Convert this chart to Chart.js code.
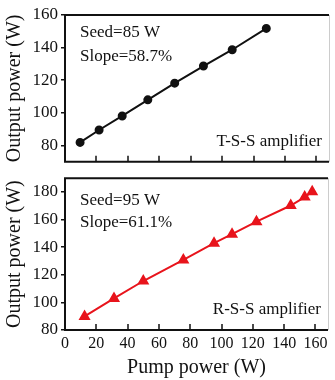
<!DOCTYPE html>
<html>
<head>
<meta charset="utf-8">
<script src="https://cdn.jsdelivr.net/npm/chart.js@4.4.1/dist/chart.umd.min.js"></script>
<style>
  body { margin: 0; background: #fff; }
  #wrap { position: relative; width: 335px; height: 380px; }
  #top-box { position: absolute; left: 0; top: 0; width: 335px; height: 175px; }
  #bot-box { position: absolute; left: 0; top: 165px; width: 335px; height: 215px; }
  canvas { display: block; }
</style>
</head>
<body>
<div id="wrap">
  <div id="top-box"><canvas id="grafik-a" width="335" height="175"></canvas></div>
  <div id="bot-box"><canvas id="grafik-b" width="335" height="215"></canvas></div>
</div>
<script>
// T-S-S amplifier (top panel)
const pumpTop = [9.6, 21.7, 36.4, 52.7, 69.8, 88.1, 106.4, 128.1];
const outTop = [81.9, 89.5, 98.1, 108.0, 118.2, 128.7, 138.7, 151.8];
// R-S-S amplifier (bottom panel)
const pumpBottom = [12.5, 31.3, 50.0, 75.6, 95.2, 106.7, 122.3, 144.2, 153.1, 157.9];
const outBottom = [89.8, 102.9, 115.5, 130.8, 142.9, 149.4, 158.5, 170.2, 176.3, 180.2];

const xTicks = [0, 20, 40, 60, 80, 100, 120, 140, 160];
const yTicksTop = [80, 100, 120, 140, 160];
const yTicksBottom = [80, 100, 120, 140, 160, 180];

const notesTop = ["Seed=85 W", "Slope=58.7%"];
const notesBottom = ["Seed=95 W", "Slope=61.1%"];

Chart.defaults.font.family = '"Liberation Serif", "Times New Roman", serif';
Chart.defaults.color = "#111";

const serif = '"Liberation Serif", "Times New Roman", serif';

// frame, inward x ticks and the text inside each panel
const framePlugin = {
    id: "frame",
    afterDraw(chart, args, opts) {
        const ctx = chart.ctx;
        const a = chart.chartArea;
        ctx.save();
        ctx.strokeStyle = "#111";
        ctx.lineWidth = 2;
        ctx.beginPath();
        ctx.moveTo(a.left, a.top);
        ctx.lineTo(a.right, a.top);
        ctx.moveTo(a.left, a.top - 1);
        ctx.lineTo(a.left, a.bottom + 1);
        ctx.moveTo(a.left, a.bottom);
        ctx.lineTo(a.right, a.bottom);
        ctx.stroke();

        ctx.strokeStyle = "#ccc";
        ctx.lineWidth = 1;
        ctx.beginPath();
        ctx.moveTo(a.right + 0.5, a.top);
        ctx.lineTo(a.right + 0.5, a.bottom);
        ctx.stroke();

        ctx.strokeStyle = "#111";
        ctx.lineWidth = 1.5;
        ctx.beginPath();
        xTicks.forEach(v => {
            if (v === 0) return;
            const px = Math.round(chart.scales.x.getPixelForValue(v));
            ctx.moveTo(px, a.bottom);
            ctx.lineTo(px, a.bottom - 6);
        });
        ctx.stroke();

        ctx.fillStyle = "#111";
        ctx.font = "17px " + serif;
        ctx.textBaseline = "middle";
        ctx.textAlign = "left";
        ctx.fillText(opts.notes[0], a.left + 15, a.top + opts.dy[0]);
        ctx.fillText(opts.notes[1], a.left + 15, a.top + opts.dy[1]);
        ctx.textAlign = "right";
        ctx.fillText(opts.tag, a.right - 7, a.bottom - 20);
        ctx.restore();
    }
};

function yScale(min, max, ticks) {
    return {
        type: "linear",
        min: min,
        max: max,
        afterBuildTicks: s => { s.ticks = ticks.map(v => ({ value: v })); },
        afterFit: s => { s.width = 65; },
        border: { display: false },
        grid: { drawOnChartArea: false, drawTicks: true, tickLength: 4, color: "#111", lineWidth: 1.5 },
        ticks: { font: { size: 17 }, padding: 3, color: "#111", autoSkip: false },
        title: { display: true, text: "Output power (W)", font: { size: 20 }, padding: { top: 3, bottom: 0 }, color: "#111" }
    };
}

new Chart(document.getElementById("grafik-a"), {
    type: "scatter",
    data: {
        datasets: [
            {
                data: pumpTop.map((x, i) => ({ x: x, y: outTop[i] })),
                showLine: true,
                borderColor: "#111",
                backgroundColor: "#111",
                borderWidth: 2,
                pointRadius: 3.5,
                pointStyle: "circle"
            }
        ]
    },
    options: {
        responsive: false,
        animation: false,
        devicePixelRatio: 1,
        layout: { padding: { top: 15, right: 1, bottom: 0, left: 0 } },
        scales: {
            x: {
                type: "linear",
                min: 0,
                max: 168,
                afterFit: s => { s.height = 2; },
                border: { display: false },
                grid: { display: false },
                ticks: { display: false }
            },
            y: yScale(70, 160, yTicksTop)
        },
        plugins: {
            legend: { display: false },
            tooltip: { enabled: false },
            frame: { notes: notesTop, dy: [18, 42], tag: "T-S-S amplifier" }
        }
    },
    plugins: [framePlugin]
});

new Chart(document.getElementById("grafik-b"), {
    type: "scatter",
    data: {
        datasets: [
            {
                data: pumpBottom.map((x, i) => ({ x: x, y: outBottom[i] })),
                showLine: true,
                borderColor: "#e8141c",
                backgroundColor: "#e8141c",
                borderWidth: 2,
                pointRadius: 5,
                pointStyle: "triangle"
            }
        ]
    },
    options: {
        responsive: false,
        animation: false,
        devicePixelRatio: 1,
        layout: { padding: { top: 8, right: 1, bottom: 0, left: 0 } },
        scales: {
            x: {
                type: "linear",
                min: 0,
                max: 168,
                afterBuildTicks: s => { s.ticks = xTicks.map(v => ({ value: v })); },
                afterFit: s => { s.height = 50; },
                border: { display: false },
                grid: { display: false, drawTicks: false },
                ticks: { font: { size: 16 }, padding: 4, color: "#111", maxRotation: 0, autoSkip: false },
                title: { display: true, text: "Pump power (W)", font: { size: 20 }, padding: { top: 0, bottom: 0 }, color: "#111" }
            },
            y: yScale(80, 190, yTicksBottom)
        },
        plugins: {
            legend: { display: false },
            tooltip: { enabled: false },
            frame: { notes: notesBottom, dy: [22, 44], tag: "R-S-S amplifier" }
        }
    },
    plugins: [framePlugin]
});
</script>
</body>
</html>
